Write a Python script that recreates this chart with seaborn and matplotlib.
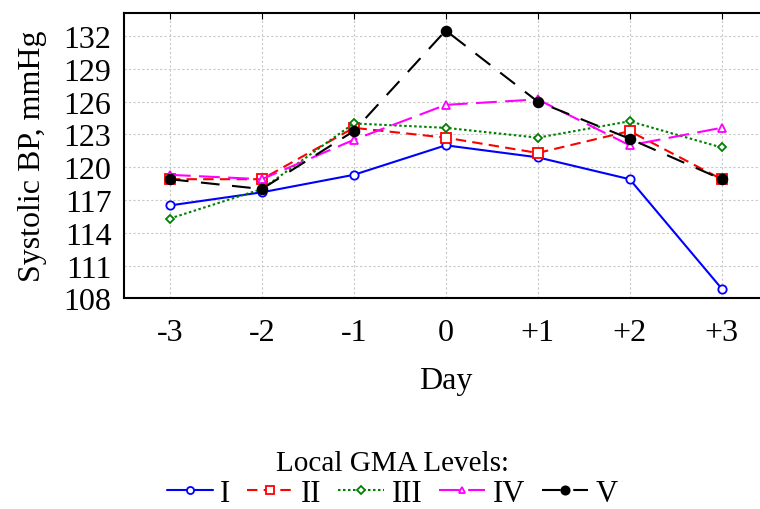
import numpy as np
import pandas as pd
from matplotlib import pyplot as plt
import seaborn as sns

days = [-3, -2, -1, 0, 1, 2, 3]
day_labels = ["-3", "-2", "-1", "0", "+1", "+2", "+3"]
y_ticks = [108, 111, 114, 117, 120, 123, 126, 129, 132]

level_names = ["I", "II", "III", "IV", "V"]
bp_I = [116.5, 117.7, 119.3, 122.0, 120.9, 118.9, 108.9]
bp_II = [118.9, 118.9, 123.6, 122.7, 121.3, 123.3, 118.9]
bp_III = [115.3, 118.0, 124.0, 123.6, 122.7, 124.2, 121.8]
bp_IV = [119.3, 118.9, 122.5, 125.7, 126.2, 122.0, 123.6]
bp_V = [118.9, 118.0, 123.3, 132.5, 126.0, 122.6, 118.9]

series = [bp_I, bp_II, bp_III, bp_IV, bp_V]
colors = ["#0000ff", "#ff0000", "#008000", "#ff00ff", "#000000"]
markers = ["o", "s", "D", "^", "o"]
marker_sizes = [6, 6.5, 4.5, 5.5, 7]
dashes = [(None, None), (5, 3), (1.2, 1.2), (10, 4), (9, 6)]

sns.set_style("white")
plt.rcParams["font.family"] = ["Liberation Serif", "DejaVu Serif"]
plt.rcParams["text.color"] = "black"
plt.rcParams["axes.labelcolor"] = "black"
plt.rcParams["xtick.color"] = "black"
plt.rcParams["ytick.color"] = "black"

fig = plt.figure(figsize=[7.6, 5.1], dpi=100)
ax = fig.add_axes([0.163, 0.413, 0.847, 0.5595])

for name, vals, c, m, ms, d in zip(level_names, series, colors, markers,
                                   marker_sizes, dashes):
    df = pd.DataFrame({"day": days, "bp": vals})
    filled = c if name == "V" else "white"
    sns.lineplot(data=df, x="day", y="bp", ax=ax, color=c, marker=m,
                 markersize=ms, markerfacecolor=filled,
                 markeredgecolor=c, markeredgewidth=1.3,
                 linewidth=1.5, label=name)
    ln = ax.get_lines()[-1]
    if d[0] is not None:
        ln.set_dashes(d)

ax.set_xlim(-3.5, 3.5)
ax.set_ylim(108, 134.1)
ax.set_xticks(days)
ax.set_xticklabels(day_labels)
ax.set_yticks(y_ticks)
ax.grid(True, color="#c8c8c8", linestyle=(0, (2, 2)), linewidth=0.8)
for sp in ax.spines.values():
    sp.set_color("black")
    sp.set_linewidth(1.5)
ax.tick_params(axis="both", labelsize=23, direction="in", length=4,
               color="black", labelcolor="black", top=True)
ax.tick_params(axis="x", pad=14)
ax.tick_params(axis="y", pad=9)
ax.set_xlabel("Day", fontsize=23, labelpad=14)
ax.set_ylabel("Systolic BP, mmHg", fontsize=23, labelpad=12)

handles, labels = ax.get_legend_handles_labels()
ax.legend_.remove()
leg = fig.legend(handles, labels, loc="center", ncol=5, frameon=False,
                 bbox_to_anchor=(392 / 760, 1 - 480 / 510),
                 title="Local GMA Levels:", title_fontsize=21, fontsize=22,
                 handlelength=1.5, handletextpad=0.25, columnspacing=0.55,
                 markerscale=0.85, borderpad=0.1, labelspacing=0.1)

fig.savefig("out.png", dpi=100)
